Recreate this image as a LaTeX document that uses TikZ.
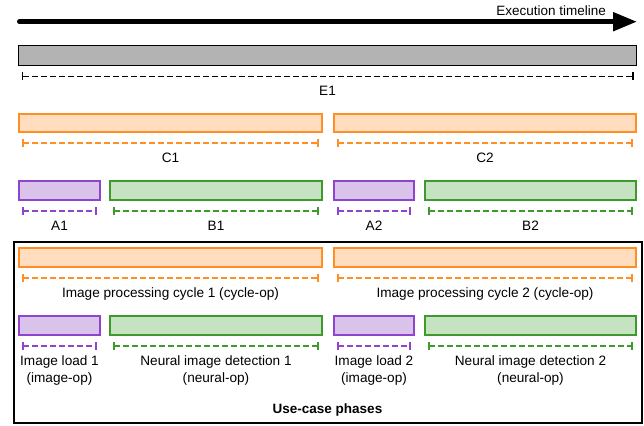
\documentclass[tikz,border=0pt]{standalone}
\usepackage{fontspec}
\setmainfont{Liberation Sans}
\usetikzlibrary{arrows.meta}
\definecolor{grayfill}{RGB}{179,179,179}
\definecolor{orStroke}{RGB}{255,143,36}
\definecolor{orFill}{RGB}{255,221,190}
\definecolor{puStroke}{RGB}{143,68,207}
\definecolor{puFill}{RGB}{217,195,234}
\definecolor{grStroke}{RGB}{62,154,45}
\definecolor{grFill}{RGB}{197,227,193}
\tikzset{
  barbase/.style={rectangle, inner sep=0pt, outer sep=0pt, anchor=north west, line width=2pt},
  graybar/.style={barbase, draw=black, fill=grayfill, line width=1.8pt},
  orangebar/.style={barbase, draw=orStroke, fill=orFill},
  purplebar/.style={barbase, draw=puStroke, fill=puFill},
  greenbar/.style={barbase, draw=grStroke, fill=grFill},
  dimline/.style={line width=1.9pt, dash pattern=on 6pt off 3pt, {Bar[width=8pt,line width=1.9pt]}-{Bar[width=8pt,line width=1.9pt]}},
  lbl/.style={inner sep=0pt, anchor=north, align=center, font=\fontsize{13.6}{16.5}\selectfont},
  timeline/.style={line width=5pt, line cap=round, -{Triangle[length=24pt,width=18pt]}},
  framebox/.style={rectangle, draw=black, line width=2pt, inner sep=0pt, outer sep=0pt, anchor=north west}
}
% name, x1, x2, ytop, ybottom, barstyle, colour, label
\newcommand\mybar[8]{%
  \node[#6, minimum width={(#3-#2)*1pt}, minimum height={(#5-#4)*1pt}] (#1) at (#2,#4) {};
  \draw[dimline, #7] ([xshift=3pt,yshift=-11pt]#1.south west) -- ([xshift=-3pt,yshift=-11pt]#1.south east);
  \node[lbl] (#1lbl) at ([yshift=-20.5pt]#1.south) {#8};
}
\begin{document}
\begin{tikzpicture}[x=1pt,y=-1pt]
\useasboundingbox (0,0) rectangle (644,425);
% timeline
\coordinate (tl0) at (19.5,21.7);
\coordinate (tl1) at (637,21.7);
\draw[timeline] (tl0) -- (tl1);
\node[anchor=east, inner sep=0pt, font=\fontsize{13.5}{16}\selectfont] (tllbl) at (606,11) {Execution timeline};
% execution
\mybar{E1}{18.5}{636.5}{45.5}{65.5}{graybar}{black}{E1}
% cycles
\mybar{C1}{19}{322}{114}{132}{orangebar}{orStroke}{C1}
\mybar{C2}{334}{636}{114}{132}{orangebar}{orStroke}{C2}
% ops
\mybar{A1}{19}{100}{181}{200}{purplebar}{puStroke}{A1}
\mybar{B1}{110}{322}{181}{200}{greenbar}{grStroke}{B1}
\mybar{A2}{334}{414}{181}{200}{purplebar}{puStroke}{A2}
\mybar{B2}{425}{636}{181}{200}{greenbar}{grStroke}{B2}
% use-case phases
\node[framebox, minimum width=628pt, minimum height=181pt] (phases) at (13.5,241.5) {};
\mybar{PC1}{19}{322}{248}{267}{orangebar}{orStroke}{Image processing cycle 1 (cycle-op)}
\mybar{PC2}{334}{636}{248}{267}{orangebar}{orStroke}{Image processing cycle 2 (cycle-op)}
\mybar{PA1}{19}{100}{316}{335}{purplebar}{puStroke}{Image load 1\\(image-op)}
\mybar{PB1}{110}{322}{316}{335}{greenbar}{grStroke}{Neural image detection 1\\(neural-op)}
\mybar{PA2}{334}{414}{316}{335}{purplebar}{puStroke}{Image load 2\\(image-op)}
\mybar{PB2}{425}{636}{316}{335}{greenbar}{grStroke}{Neural image detection 2\\(neural-op)}
\node[inner sep=0pt, font=\fontsize{13.5}{16}\selectfont\bfseries] (phaseslbl) at (327.5,410) {Use-case phases};
\end{tikzpicture}
\end{document}
